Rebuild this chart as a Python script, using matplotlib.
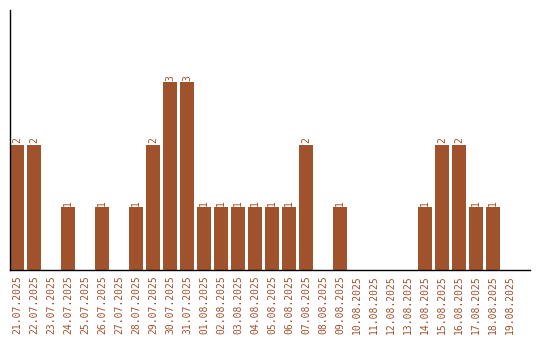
import matplotlib
matplotlib.use("Agg")
import matplotlib.pyplot as plt

# DATA

DATES = [
    "21.07.2025", "22.07.2025", "23.07.2025", "24.07.2025", "25.07.2025",
    "26.07.2025", "27.07.2025", "28.07.2025", "29.07.2025", "30.07.2025",
    "31.07.2025", "01.08.2025", "02.08.2025", "03.08.2025", "04.08.2025",
    "05.08.2025", "06.08.2025", "07.08.2025", "08.08.2025", "09.08.2025",
    "10.08.2025", "11.08.2025", "12.08.2025", "13.08.2025", "14.08.2025",
    "15.08.2025", "16.08.2025", "17.08.2025", "18.08.2025", "19.08.2025",
]
COUNTS = [2, 2, 0, 1, 0, 1, 0, 1, 2, 3,
          3, 1, 1, 1, 1, 1, 1, 2, 0, 1,
          0, 0, 0, 0, 1, 2, 2, 1, 1, 0]

COLOR = "#A0522D"
FONT = "DejaVu Sans Mono"

# PLOT

fig = plt.figure(figsize=(5.4, 3.4), dpi=100)
ax = fig.add_axes([10 / 540, 70 / 340, 520 / 540, 260 / 340])

x = list(range(len(DATES)))
ax.bar(x, COUNTS, width=14 / 17, color=COLOR)

for i, c in zip(x, COUNTS):
    if c > 0:
        ax.text(i, c + 0.02, str(c), rotation=90, ha="center", va="bottom",
                color=COLOR, fontsize=7, family=FONT)

ax.set_xticks(x)
ax.set_xticklabels(DATES, rotation=90, color=COLOR, fontsize=7, family=FONT)
ax.tick_params(axis="x", length=0, pad=4)
ax.set_yticks([])

ax.set_xlim(-7 / 17, 30.18)
ax.set_ylim(0, 4.15)

for s in ["top", "right"]:
    ax.spines[s].set_visible(False)
for s in ["left", "bottom"]:
    ax.spines[s].set_linewidth(1.0)
    ax.spines[s].set_color("black")

fig.savefig("out.png", dpi=100, facecolor="white")
